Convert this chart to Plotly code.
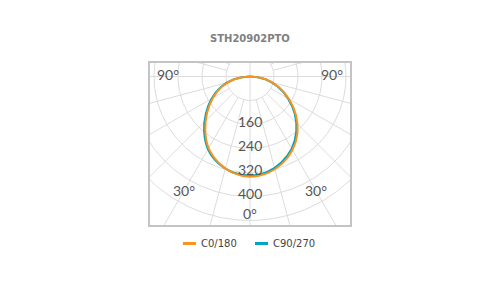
import numpy as np
import plotly.graph_objects as go

# ---------------- data ----------------
title_text = "STH20902PTO"
angles_deg = [-90, -80, -70, -60, -50, -40, -30, -20, -10, 0,
              10, 20, 30, 40, 50, 60, 70, 80, 90]
c0_180 = [0, 52, 100, 143, 186, 232, 276, 306, 326, 334,
          328, 310, 283, 246, 200, 150, 102, 54, 0]
c90_270 = [0, 54, 104, 148, 192, 238, 280, 308, 325, 330,
           324, 305, 278, 240, 195, 146, 98, 52, 0]
series_names = ["C0/180", "C90/270"]
series_colors = ["#f7941d", "#00a3c4"]

grid_radii = [80, 160, 240, 320, 400, 480]
grid_spoke_deg = list(range(-180, 180, 15))
radial_tick_values = [160, 240, 320, 400]
angle_tick_deg = [-90, -30, 0, 30, 90]
angle_tick_text = ["90°", "30°", "0°", "30°", "90°"]

# ---------------- layout helpers ----------------
W, H = 500, 300
L, R, T, B = 150, 150, 63, 75
PW, PH = W - L - R, H - T - B


def px_to_paper(px, py):
    return (px - L) / PW, (H - B - py) / PH


def pol(r, deg):
    t = np.radians(np.asarray(deg, dtype=float))
    r = np.asarray(r, dtype=float)
    return r * np.sin(t), -r * np.cos(t)


fig = go.Figure()
grid_color = "#dcdcdc"

# grid circles
tt = np.linspace(-180, 180, 361)
for rr in grid_radii:
    gx, gy = pol(np.full_like(tt, rr), tt)
    fig.add_trace(go.Scatter(x=gx, y=gy, mode="lines", hoverinfo="skip",
                             line=dict(color=grid_color, width=1), showlegend=False))
# spokes
for d in grid_spoke_deg:
    r0 = 0 if d % 90 == 0 else grid_radii[0]
    sx, sy = pol([r0, 900], [d, d])
    fig.add_trace(go.Scatter(x=sx, y=sy, mode="lines", hoverinfo="skip",
                             line=dict(color=grid_color, width=1), showlegend=False))

# curves (C90/270 below, C0/180 on top)
for name, vals, col in [(series_names[1], c90_270, series_colors[1]),
                        (series_names[0], c0_180, series_colors[0])]:
    cx, cy = pol(vals, angles_deg)
    fig.add_trace(go.Scatter(x=cx, y=cy, mode="lines", name=name,
                             line=dict(color=col, width=2, shape="spline", smoothing=0.8),
                             showlegend=False, hoverinfo="skip"))

label_font = dict(family="Lato", size=14, color="#555555")
annotations = []
for v in radial_tick_values:
    annotations.append(dict(x=0, y=-v, text=str(v), showarrow=False, xref="x", yref="y",
                            yshift=3, font=label_font))
label_radius = {-90: 273, -30: 437, 0: 457, 30: 437, 90: 273}
for d, txt in zip(angle_tick_deg, angle_tick_text):
    ax, ay = pol(label_radius[d], d)
    annotations.append(dict(x=float(ax), y=float(ay), text=txt, showarrow=False,
                            xref="x", yref="y", yshift=2 if abs(d) == 90 else 0,
                            font=label_font))

# title
tx, ty = px_to_paper(250, 38)
annotations.append(dict(x=tx, y=ty, xref="paper", yref="paper", text=title_text,
                        showarrow=False, xanchor="center", yanchor="middle",
                        font=dict(family="DejaVu Sans", size=10, color="#808080",
                                  weight="bold")))

# custom legend
shapes = []
leg_items = [(series_names[0], series_colors[0], 183), (series_names[1], series_colors[1], 255)]
for name, col, x0 in leg_items:
    lx0, ly = px_to_paper(x0, 243.5)
    lx1, _ = px_to_paper(x0 + 13, 243.5)
    shapes.append(dict(type="line", xref="paper", yref="paper",
                       x0=lx0, x1=lx1, y0=ly, y1=ly, line=dict(color=col, width=3)))
    lt, _ = px_to_paper(x0 + 16, 243.5)
    annotations.append(dict(x=lt, y=ly, xref="paper", yref="paper",
                            text=name, showarrow=False, xanchor="left", yanchor="middle",
                            font=dict(family="DejaVu Sans", size=10, color="#444444")))

fig.update_layout(
    width=W, height=H,
    margin=dict(l=L, r=R, t=T, b=B),
    paper_bgcolor="white", plot_bgcolor="white",
    showlegend=False,
    annotations=annotations,
    shapes=shapes,
    xaxis=dict(range=[-1000 / 3, 1000 / 3], showgrid=False, zeroline=False,
               showticklabels=False, ticks="", showline=True, mirror=True,
               linecolor="#c4c4c4", linewidth=2, fixedrange=True),
    yaxis=dict(range=[-495, 45], showgrid=False, zeroline=False,
               showticklabels=False, ticks="", showline=True, mirror=True,
               linecolor="#c4c4c4", linewidth=2, fixedrange=True),
)

fig.write_html("out.html")
